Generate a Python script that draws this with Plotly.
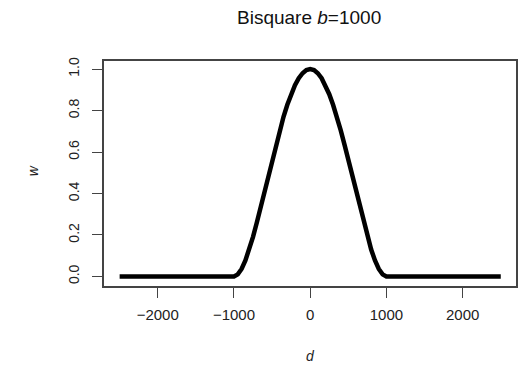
import plotly.graph_objects as go

# distance d and bisquare weight w
d = [-2500, -1000, -950, -900, -850, -800, -750, -700, -650, -600, -550, -500,
     -450, -400, -350, -300, -250, -200, -150, -100, -50, 0,
     50, 100, 150, 200, 250, 300, 350, 400, 450, 500,
     550, 600, 650, 700, 750, 800, 850, 900, 950, 1000, 2500]
w = [0.0, 0.0, 0.010, 0.036, 0.077, 0.130, 0.191, 0.260, 0.334, 0.410, 0.487, 0.563,
     0.636, 0.706, 0.770, 0.828, 0.879, 0.922, 0.956, 0.980, 0.995, 1.0,
     0.995, 0.980, 0.956, 0.922, 0.879, 0.828, 0.770, 0.706, 0.636, 0.563,
     0.487, 0.410, 0.334, 0.260, 0.191, 0.130, 0.077, 0.036, 0.010, 0.0, 0.0]

x_ticks = [-2000, -1000, 0, 1000, 2000]
x_tick_labels = ["\u22122000", "\u22121000", "0", "1000", "2000"]
y_ticks = [0.0, 0.2, 0.4, 0.6, 0.8, 1.0]
y_tick_labels = ["0.0", "0.2", "0.4", "0.6", "0.8", "1.0"]

FONT = "Liberation Sans, Arial, sans-serif"

fig = go.Figure()
fig.add_trace(go.Scatter(x=d, y=w, mode="lines",
                         line=dict(color="black", width=4.5, shape="linear"),
                         hoverinfo="skip", showlegend=False))

frame = "#444444"
fig.update_layout(
    width=524, height=365,
    margin=dict(l=104, r=6, t=61, b=79),
    paper_bgcolor="white", plot_bgcolor="white",
    font=dict(family=FONT, color="#222222"),
    xaxis=dict(range=[-2705, 2700], tickvals=x_ticks, ticktext=x_tick_labels,
               showgrid=False, zeroline=False, showline=True, mirror=True,
               linecolor=frame, linewidth=1.5, ticks="outside", ticklen=10,
               tickcolor=frame, tickwidth=1.3, tickfont=dict(size=15, color="#222222"),
               ticklabelstandoff=4),
    yaxis=dict(range=[-0.046, 1.039], tickvals=y_ticks, ticktext=y_tick_labels,
               showgrid=False, zeroline=False, showline=True, mirror=True,
               linecolor=frame, linewidth=1.5, ticks="outside", ticklen=10,
               tickcolor=frame, tickwidth=1.3, tickangle=-90,
               tickfont=dict(size=14, color="#222222"), ticklabelstandoff=8),
    annotations=[
        dict(text="Bisquare <i>b</i>=1000", x=310, y=18, xref="paper", yref="paper",
             showarrow=False, font=dict(size=19, color="#111111")),
        dict(text="<i>d</i>", x=312, y=356, showarrow=False,
             font=dict(size=14, color="#222222")),
        dict(text="<i>w</i>", x=33, y=171, showarrow=False, textangle=-90,
             font=dict(size=14, color="#222222")),
    ],
)

# place annotations in pixel coordinates of the page
W, H = 524, 365
L, R, T, B = 104, 6, 61, 79
pw, ph = W - L - R, H - T - B
new_ann = []
for a in fig.layout.annotations:
    px, py = a.x, a.y
    a.update(xref="paper", yref="paper",
             x=(px - L) / pw, y=1 - (py - T) / ph,
             xanchor="center", yanchor="middle")
    new_ann.append(a)
fig.layout.annotations = new_ann

fig.write_html("out.html")
